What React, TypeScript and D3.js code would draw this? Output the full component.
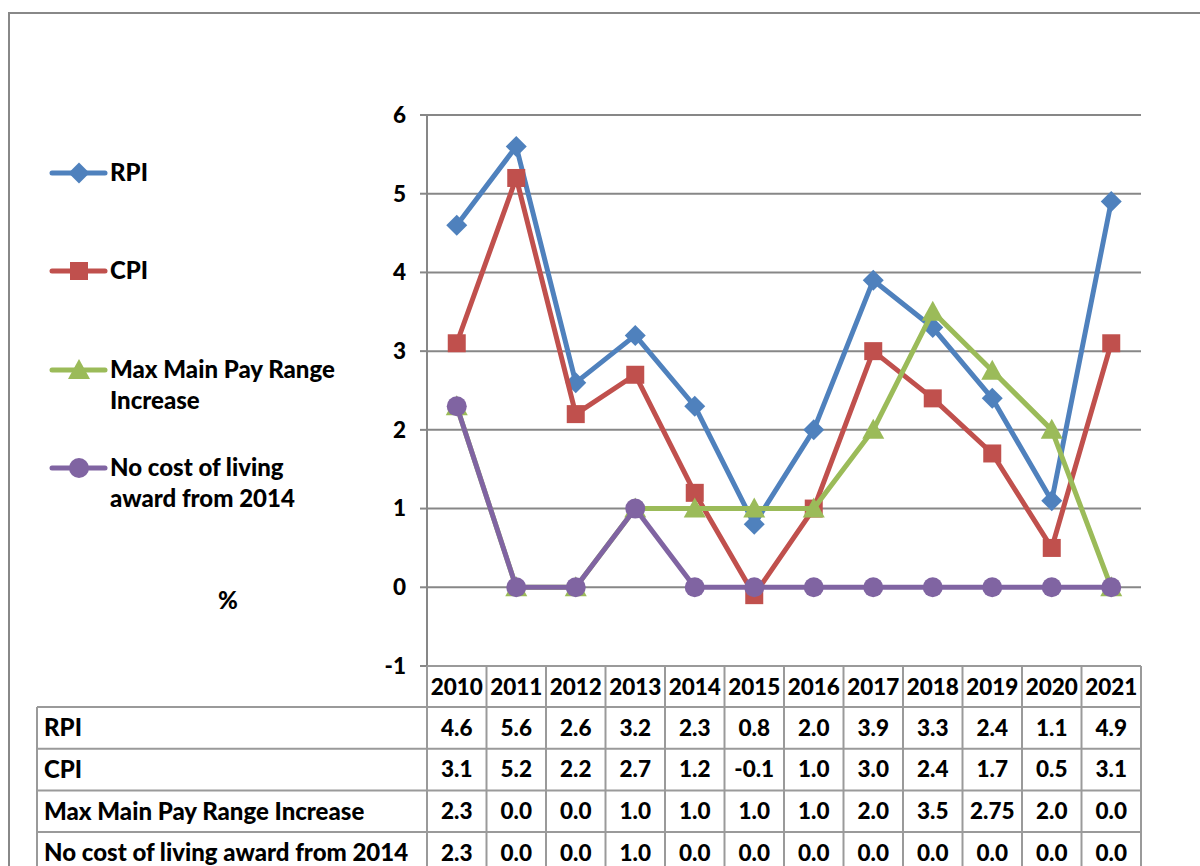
import React from "react";
import * as d3 from "d3";

const years = ["2010","2011","2012","2013","2014","2015","2016","2017","2018","2019","2020","2021"];
const rpi = [4.6, 5.6, 2.6, 3.2, 2.3, 0.8, 2.0, 3.9, 3.3, 2.4, 1.1, 4.9];
const cpi = [3.1, 5.2, 2.2, 2.7, 1.2, -0.1, 1.0, 3.0, 2.4, 1.7, 0.5, 3.1];
const maxPay = [2.3, 0.0, 0.0, 1.0, 1.0, 1.0, 1.0, 2.0, 3.5, 2.75, 2.0, 0.0];
const noCost = [2.3, 0.0, 0.0, 1.0, 0.0, 0.0, 0.0, 0.0, 0.0, 0.0, 0.0, 0.0];
const maxPayLabels = ["2.3","0.0","0.0","1.0","1.0","1.0","1.0","2.0","3.5","2.75","2.0","0.0"];
const yTicks = [-1, 0, 1, 2, 3, 4, 5, 6];

const seriesList = [
  { name: "RPI", legend: ["RPI"], values: rpi, labels: rpi.map((v) => v.toFixed(1)), color: "#4F81BD", marker: "diamond" },
  { name: "CPI", legend: ["CPI"], values: cpi, labels: cpi.map((v) => v.toFixed(1)), color: "#C0504D", marker: "square" },
  { name: "Max Main Pay Range Increase", legend: ["Max Main Pay Range", "Increase"], values: maxPay, labels: maxPayLabels, color: "#9BBB59", marker: "triangle" },
  { name: "No cost of living award from 2014", legend: ["No cost of living", "award from 2014"], values: noCost, labels: noCost.map((v) => v.toFixed(1)), color: "#8064A2", marker: "circle" },
];

const FONT = "Lato, 'Open Sans', sans-serif";
const TXT = 24;
const NUM = 22.5;

function Marker({ type, x, y, color }: { type: string; x: number; y: number; color: string }) {
  if (type === "diamond") {
    const s = 10.5;
    return <path d={`M${x},${y - s}L${x + s},${y}L${x},${y + s}L${x - s},${y}Z`} fill={color} />;
  }
  if (type === "square") {
    const s = 9;
    return <rect x={x - s} y={y - s} width={2 * s} height={2 * s} fill={color} />;
  }
  if (type === "triangle") {
    const s = 10;
    return <path d={`M${x},${y - s - 1}L${x + s + 1},${y + s - 1}L${x - s - 1},${y + s - 1}Z`} fill={color} />;
  }
  return <circle cx={x} cy={y} r={10} fill={color} />;
}

export default function App() {
  const W = 1200, H = 866;
  const x = d3.scaleBand<string>().domain(years).range([427, 1141]).padding(0);
  const y = d3.scaleLinear().domain([-1, 6]).range([666, 115]);
  const bw = x.bandwidth();
  const cx = (yr: string) => (x(yr) as number) + bw / 2;
  const line = d3.line<number>().x((_, i) => cx(years[i])).y((v) => y(v));

  const headerTop = 666;
  const headerBottom = 707;
  const rowH = 41.7;
  const gridColor = "#878787";
  const tableColor = "#9a9a9a";

  const legendY = [173, 271, 370, 468];

  return (
    <svg width={W} height={H} style={{ position: "absolute", left: 0, top: 0, background: "#fff" }} fontFamily={FONT} fontWeight={900}>
      <rect x={0} y={0} width={W} height={H} fill="#fff" />
      {/* outer border */}
      <rect x={9} y={13} width={1300} height={1000} fill="none" stroke="#888" strokeWidth={2} />

      {/* gridlines and y ticks */}
      {yTicks.map((t) => (
        <g key={t}>
          {t > -1 && <line x1={427} x2={1141} y1={y(t)} y2={y(t)} stroke={gridColor} strokeWidth={2} />}
          <line x1={420} x2={427} y1={y(t)} y2={y(t)} stroke={gridColor} strokeWidth={2} />
          <text x={406} y={y(t)} dy="0.35em" textAnchor="end" fontSize={NUM}>{t}</text>
        </g>
      ))}
      <line x1={427} x2={427} y1={y(6)} y2={y(-1)} stroke={gridColor} strokeWidth={2} />

      {/* series */}
      {seriesList.map((s) => (
        <g key={s.name}>
          <path d={line(s.values) || ""} fill="none" stroke={s.color} strokeWidth={5} strokeLinejoin="round" />
          {s.values.map((v, i) => (
            <Marker key={i} type={s.marker} x={cx(years[i])} y={y(v)} color={s.color} />
          ))}
        </g>
      ))}

      {/* legend */}
      {seriesList.map((s, i) => (
        <g key={s.name}>
          <line x1={52} x2={105} y1={legendY[i]} y2={legendY[i]} stroke={s.color} strokeWidth={5} strokeLinecap="round" />
          <Marker type={s.marker} x={79} y={legendY[i]} color={s.color} />
          {s.legend.map((t, j) => (
            <text key={j} x={110} y={legendY[i] + j * 31} dy="0.35em" fontSize={TXT}>{t}</text>
          ))}
        </g>
      ))}
      <text x={228} y={601} dy="0.35em" textAnchor="middle" fontSize={TXT}>%</text>

      {/* data table */}
      <g stroke={tableColor} strokeWidth={2} fill="none">
        <line x1={427} x2={1141} y1={headerTop} y2={headerTop} />
        <line x1={37} x2={1141} y1={headerBottom} y2={headerBottom} />
        {seriesList.map((s, i) => (
          <line key={s.name} x1={37} x2={1141} y1={headerBottom + (i + 1) * rowH} y2={headerBottom + (i + 1) * rowH} />
        ))}
        <line x1={37} x2={37} y1={headerBottom} y2={H + 20} />
        {years.map((yr) => (
          <line key={yr} x1={x(yr) as number} x2={x(yr) as number} y1={headerTop} y2={H + 20} />
        ))}
        <line x1={1141} x2={1141} y1={headerTop} y2={H + 20} />
      </g>
      {years.map((yr) => (
        <text key={yr} x={cx(yr)} y={(headerTop + headerBottom) / 2 + 1} dy="0.35em" textAnchor="middle" fontSize={NUM}>{yr}</text>
      ))}
      {seriesList.map((s, i) => {
        const ym = headerBottom + i * rowH + rowH / 2;
        return (
          <g key={s.name}>
            <text x={44} y={ym} dy="0.35em" fontSize={TXT}>{s.name}</text>
            {s.labels.map((l, j) => (
              <text key={j} x={cx(years[j])} y={ym} dy="0.35em" textAnchor="middle" fontSize={NUM}>{l}</text>
            ))}
          </g>
        );
      })}
    </svg>
  );
}
